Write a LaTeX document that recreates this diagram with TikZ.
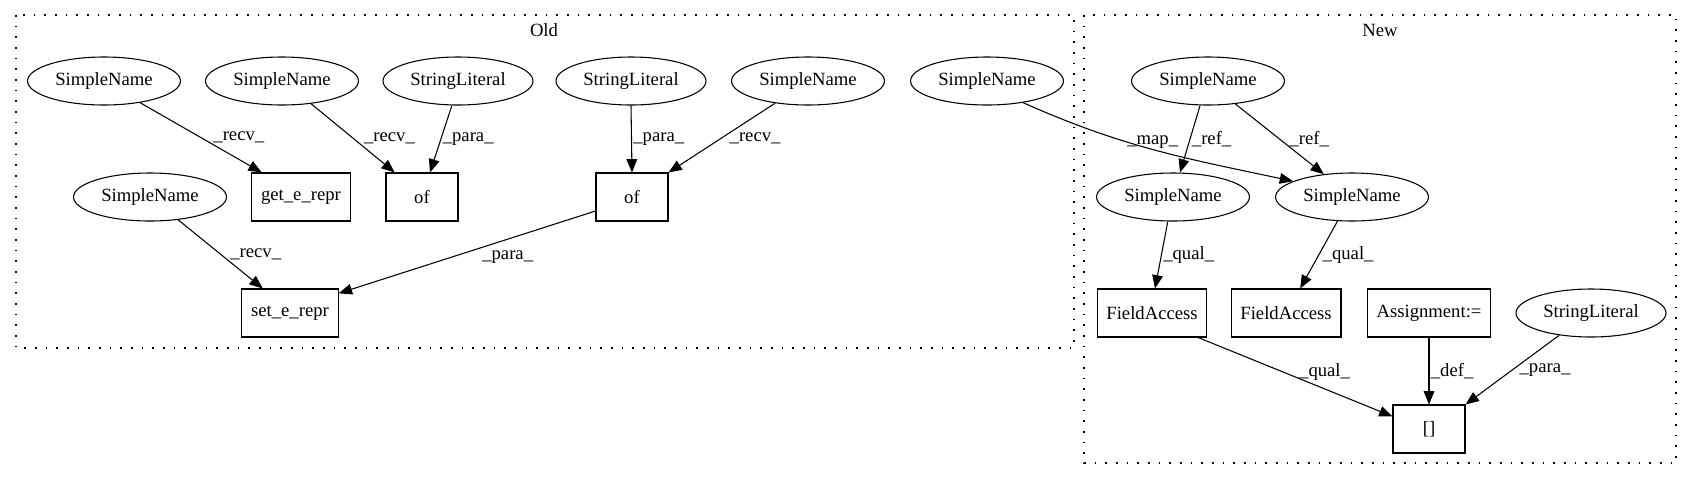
\documentclass[tikz,border=0pt]{standalone}
\usepackage{fontspec}
\setmainfont{Liberation Serif}
\usepackage{tikz}
\usetikzlibrary{shapes.geometric, arrows.meta, positioning, calc}
\tikzset{
  ast/.style={draw, line width=0.8pt, font=\fontsize{14}{16}\selectfont},
  leaf/.style={ast, ellipse, minimum height=36pt, inner xsep=4pt, inner ysep=0pt},
  op/.style={ast, rectangle, minimum width=54pt, minimum height=36pt, inner xsep=7pt},
  cluster/.style={line width=0.9pt, dash pattern=on 1.2pt off 6.8pt},
  ctitle/.style={font=\fontsize{14}{16}\selectfont},
  conn/.style={-{Triangle[length=10pt,width=8pt]}, line width=0.8pt},
  lbl/.style={font=\fontsize{14}{16}\selectfont, midway, right, inner sep=1pt},
}
\begin{document}
\begin{tikzpicture}[x=0.75pt, y=-0.75pt]
  \useasboundingbox (0,0) rectangle (1692,480);

  % ── Clusters ─────────────────────────────────────────────────────────────
  \draw[cluster] (16,15) rectangle (1074,348);
  \draw[cluster] (1084,15) rectangle (1676,463);
  \node[ctitle] (oldlbl) at (544,30)  {Old};
  \node[ctitle] (newlbl) at (1380,30) {New};

  % ── Old: row 0 ───────────────────────────────────────────────────────────
  \node[leaf] (sngetrecv) at (104,81) {SimpleName};
  \node[leaf] (snofarecv) at (282,81) {SimpleName};
  \node[leaf] (strofa)    at (458,81) {StringLiteral};
  \node[leaf] (strofb)    at (631,81) {StringLiteral};
  \node[leaf] (snofbrecv) at (808,81) {SimpleName};
  \node[leaf] (snmap)     at (987,81) {SimpleName};

  % ── Old: row 1 ───────────────────────────────────────────────────────────
  \node[leaf] (snsetrecv) at (150,197) {SimpleName};
  \node[op]   (getrepr)   at (301,197) {get\_e\_repr};
  \node[op]   (ofa)       at (422,197) {of};
  \node[op]   (ofb)       at (632,197) {of};

  % ── Old: row 2 ───────────────────────────────────────────────────────────
  \node[op]   (setrepr)   at (290,313) {set\_e\_repr};

  % ── New ──────────────────────────────────────────────────────────────────
  \node[leaf] (snroot)  at (1208,81)  {SimpleName};
  \node[leaf] (snleft)  at (1173,197) {SimpleName};
  \node[leaf] (snright) at (1352,197) {SimpleName};
  \node[op]   (faleft)  at (1152,313) {FieldAccess};
  \node[op]   (faright) at (1286,313) {FieldAccess};
  \node[op]   (assign)  at (1429,313) {Assignment:=};
  \node[leaf] (strnew)  at (1591,313) {StringLiteral};
  \node[op]   (idx)     at (1429,429) {[]};

  % ── Edges: old ───────────────────────────────────────────────────────────
  \draw[conn] (sngetrecv.-31) -- node[lbl, xshift=8pt]{\_recv\_} (getrepr.148);
  \draw[conn] (snofarecv.-38) -- node[lbl, xshift=7pt]{\_recv\_} (ofa.138);
  \draw[conn] (strofa.-104)   -- node[lbl]{\_para\_} (ofa.72);
  \draw[conn] (strofb.south)  -- node[lbl]{\_para\_} (ofb.north);
  \draw[conn] (snofbrecv.-146) -- node[lbl, xshift=4.5pt]{\_recv\_} (ofb.north east);
  \draw[conn] (snsetrecv.-39) -- node[lbl, xshift=6pt]{\_recv\_} (setrepr.138);
  \draw[conn] (ofb.201) -- node[lbl, xshift=10pt, yshift=-3.75pt]{\_para\_} (setrepr.22);

  % ── Edges: across ────────────────────────────────────────────────────────
  \draw[conn] (snmap.-31) to[out=-24, in=168]
    node[lbl, anchor=center, xshift=-2pt, yshift=6pt]{\_map\_} (snright.165);

  % ── Edges: new ───────────────────────────────────────────────────────────
  \draw[conn] (snroot.-108) -- node[lbl]{\_ref\_} (snleft.74);
  \draw[conn] (snroot.-40)  -- node[lbl, xshift=6pt]{\_ref\_} (snright.141);
  \draw[conn] (snleft.-102) -- node[lbl]{\_qual\_} (faleft.83);
  \draw[conn] (snright.-121) -- node[lbl, xshift=1.5pt]{\_qual\_} (faright.60);
  \draw[conn] (faleft.-28) -- node[lbl, xshift=1.5pt, yshift=3.75pt]{\_qual\_} (idx.161);
  \draw[conn] (assign.south) -- node[lbl]{\_def\_} (idx.north);
  \draw[conn] (strnew.-145) -- node[lbl, xshift=4pt]{\_para\_} (idx.north east);

\end{tikzpicture}
\end{document}
